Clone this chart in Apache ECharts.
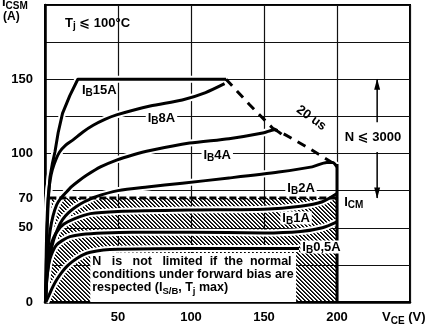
<!DOCTYPE html>
<html><head><meta charset="utf-8">
<script src="https://cdn.jsdelivr.net/npm/echarts@6/dist/echarts.min.js"></script>
<style>html,body{margin:0;padding:0;background:#fff}#c{width:431px;height:328px}</style>
</head><body><div id="c"></div>
<script>
// ---- data (axis units: V_CE in V, I_CSM in A) ----
const xLabelValues = [50, 100, 150, 200];
const yLabelValues = [0, 50, 70, 100, 150];
const ib15A = [[0.5,0],[0.9,25],[1.5,50],[2.3,70],[3.4,84],[5,93],[6.8,101],[9,114],[12,127],[17,139],[22.5,150],[124,150]];
const ib8A  = [[0.4,0],[0.7,25],[1.1,45],[1.6,60],[2.3,72],[3.5,82],[5,89],[7.5,96],[10,101],[14,105.5],[19,109],[26,114.5],[33,119],[41,123],[49,126],[72,132],[94,136],[110,141],[123,147]];
const ib4A  = [[0.4,0],[1,20],[2,35],[3.5,48],[5.5,58],[8,65.5],[10.5,69.5],[13.7,73],[18,77.5],[23,81.5],[28.7,85.5],[38,91],[49,95.6],[60,99],[72,102],[99,107],[126,110],[150,114],[157,116],[162,113]];
const ib2A  = [[0.3,0],[1,12],[2,22],[3.5,32],[6,42],[9,50],[12,55.5],[16,60],[21,64],[27,67.5],[35,71],[50,75],[70,77.5],[94,80],[126,83.5],[160,87.5],[183,91],[193,94],[197,94],[200,91]];
const ib1A  = [[0.3,0],[0.8,12],[1.5,22],[2.5,31],[4,38],[6,43.5],[9,48.5],[13,52.5],[20,56],[31,59.5],[50,61],[100,62],[150,62.5],[175,64.5],[190,67.5],[200,73]];
const ibMid = [[0.3,0],[1,13],[2,22],[3.4,29],[5.5,34.5],[8,38.5],[12,41.5],[17,44],[25,45.5],[40,46.5],[60,47],[100,47],[150,46.5],[175,47.5],[190,50],[200,54]];
const ib05A = [[0.5,0],[2,3],[3.4,6],[5.5,10.5],[8,15],[11.5,20],[15,24],[18.5,27],[22,29.5],[26,31.8],[31,33.5],[40,35],[50,35.5],[100,36],[174,36]];
const limit20us = [[124,150],[140,133],[156,117],[163,113.5],[180,104],[196,94.3]];
const icmLine = [[3,70],[200,70]];
const vceLimit = [[200,93],[200,0]];
const hatchRegion = [[0,0],[0,70],[188,70],[196,71.5],[200,73],[200,0]];
const noteBox = [[31,0],[31,33],[172,33],[172,0]];
const nArrowUp = [[227.5,121],[227.5,150]];
const nArrowDown = [[227.5,101],[227.5,70]];
// annotation anchors (data coords)
const annotations = [
  {t:'{m|T}{s|j}{m| ⩽ 100°C}', at:[13.7,187.9], align:'left'},
  {t:'{m|I}{s|B}{m|15A}', at:[25.3,142.8], align:'left'},
  {t:'{m|I}{s|B}{m|8A}', at:[69,123.9], align:'left', bg:true},
  {t:'{m|I}{s|B}{m|4A}', at:[107.2,99], align:'left', bg:true},
  {t:'{m|I}{s|B}{m|2A}', at:[164.6,76.8], align:'left', bg:true},
  {t:'{m|I}{s|B}{m|1A}', at:[161.2,56.6], align:'left', bg:true},
  {t:'{m|I}{s|B}{m|0,5A}', at:[174.9,37], align:'left', bg:true},
  {t:'{m|I}{s|CM}', at:[204.9,67.3], align:'left'},
  {t:'{m|N ⩽ 3000}', at:[224.7,111.1], align:'center', bg:true},
  {t:'{m|20 us}', at:[182.4,123.9], align:'center', rot:-0.62},
];
const noteLines = ['N   is   not   limited  if  the  normal', 'conditions under forward bias are', 'respected (I{s|S/B}, T{s|j} max)'];

const FONT = '"Liberation Sans", Arial, "DejaVu Sans", sans-serif';
function rich(size){
  return {
    m:{fontSize:size, fontWeight:'bold', fontFamily:FONT, color:'#000', lineHeight:size, verticalAlign:'top'},
    s:{fontSize:size-3, fontWeight:'bold', fontFamily:FONT, color:'#000', lineHeight:size-3, verticalAlign:'top', padding:[5,0,0,0]}
  };
}
function hatchCanvas(){
  const c=document.createElement('canvas'); c.width=4; c.height=4;
  const ctx=c.getContext('2d'); const img=ctx.createImageData(4,4);
  for(let y=0;y<4;y++)for(let x=0;x<4;x++){
    const d=((x-y)%4+4)%4; const i=(y*4+x)*4;
    img.data[i]=img.data[i+1]=img.data[i+2]=0;
    img.data[i+3]= d===0?255:(d===1?200:0);
  }
  ctx.putImageData(img,0,0); return c;
}
const hc = hatchCanvas();

const chart = echarts.init(document.getElementById('c'), null, {renderer:'canvas'});
function curve(data, w, sm){
  const s = sm===undefined?0.25:sm;
  return [{type:'line', data, smooth:s, showSymbol:false, silent:true, z:3,
           lineStyle:{color:'#fff', width:w+4}},
          {type:'line', data, smooth:s, showSymbol:false, silent:true, z:4,
           lineStyle:{color:'#000', width:w, cap:'butt', join:'round'}}];
}
function arrow(data){
  return {type:'line', silent:true, z:4, lineStyle:{color:'#000', width:1.5},
    data:[{value:data[0], symbol:'none'},{value:data[1], symbol:'triangle', symbolSize:[6,11],
      symbolOffset:[0, data[1][1]>data[0][1]?5:-5], symbolRotate: data[1][1]>data[0][1]?0:180, itemStyle:{color:'#000'}}]};
}
const series = [
  {type:'custom', z:1, silent:true, data:[[0,0]], renderItem:(p,api)=>({type:'polygon',
     shape:{points:hatchRegion.map(pt=>api.coord(pt))}, style:{fill:{image:hc, repeat:'repeat'}}})},
  {type:'custom', z:2, silent:true, data:[[0,0]], renderItem:(p,api)=>({type:'polygon',
     shape:{points:noteBox.map(pt=>api.coord(pt))}, style:{fill:'#fff'}})},
  ...curve(ib05A,3), ...curve(ibMid,3), ...curve(ib1A,3), ...curve(ib2A,3),
  ...curve(ib4A,3), ...curve(ib8A,3), ...curve(ib15A,3,0),
  {type:'line', data:limit20us, showSymbol:false, silent:true, z:4, lineStyle:{color:'#000', width:3, type:[9,7]}},
  {type:'line', data:icmLine, showSymbol:false, silent:true, z:4, lineStyle:{color:'#000', width:3, type:[7,3]}},
  {type:'line', data:vceLimit, showSymbol:false, silent:true, z:4, lineStyle:{color:'#000', width:3}},
  arrow(nArrowUp), arrow(nArrowDown)
];
const axisFont = {fontSize:13, fontWeight:'bold', fontFamily:FONT, color:'#000'};
chart.setOption({
  animation:false,
  grid:{left:45, right:21, top:5, bottom:26, show:true, borderColor:'#000', borderWidth:2, backgroundColor:'#fff'},
  xAxis:{type:'value', min:0, max:250, interval:50,
    axisLine:{show:true, lineStyle:{color:'#000', width:2.5}}, axisTick:{show:false},
    axisLabel:Object.assign({customValues:xLabelValues, margin:9}, axisFont),
    splitLine:{show:true, lineStyle:{color:'#111', width:1.2}}},
  yAxis:{type:'value', min:0, max:200, interval:25,
    axisLine:{show:true, lineStyle:{color:'#000', width:2.5}}, axisTick:{show:false},
    axisLabel:Object.assign({customValues:yLabelValues, margin:12}, axisFont),
    splitLine:{show:true, lineStyle:{color:'#111', width:1.2}}},
  series
});

const g = [];
annotations.forEach(a=>{
  const p = chart.convertToPixel({gridIndex:0}, a.at);
  g.push({type:'text', x:p[0], y:p[1], rotation:a.rot||0, z:100,
    style:{text:a.t, rich:rich(13), align:a.align, verticalAlign:'middle',
      backgroundColor:a.bg?'#fff':null, padding:a.bg?[0,2]:0}});
});
// note box text
const boxTL = chart.convertToPixel({gridIndex:0}, [noteBox[1][0], noteBox[1][1]]);
noteLines.forEach((ln,i)=>{
  g.push({type:'text', x:boxTL[0]+2, y:boxTL[1]+2+i*13, z:100,
    style:{text:'{m|'+ln.replace(/\{s\|([^}]*)\}/g,'}{s|$1}{m|')+'}', rich:rich(12.5), align:'left', verticalAlign:'top'}});
});
// axis titles
g.push({type:'text', x:2, y:-4, z:100, style:{text:'{m|I}{s|CSM}', rich:rich(13), align:'left', verticalAlign:'top'}});
g.push({type:'text', x:3, y:11, z:100, style:{text:'{m|(A)}', rich:rich(12), align:'left', verticalAlign:'top'}});
g.push({type:'text', x:382, y:311, z:100, style:{text:'{m|V}{s|CE}{m| (V)}', rich:rich(13), align:'left', verticalAlign:'top'}});
chart.setOption({graphic:g});
</script></body></html>
